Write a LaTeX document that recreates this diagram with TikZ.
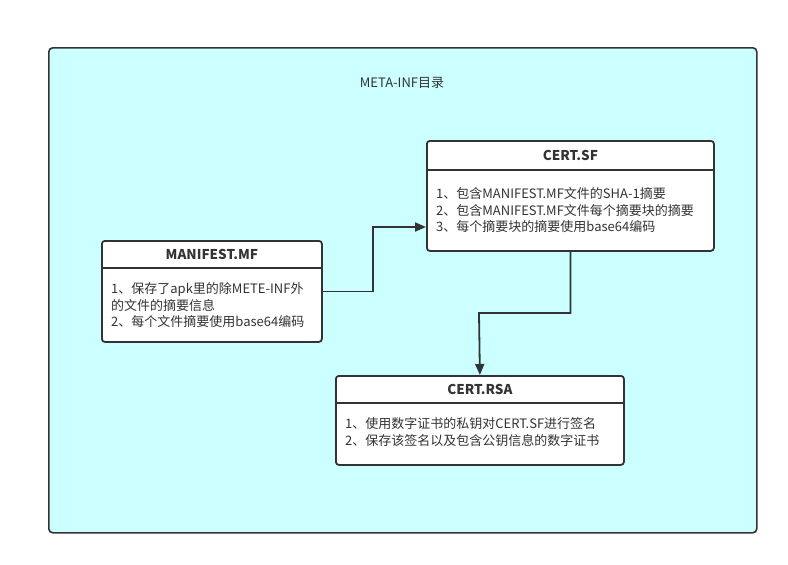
\documentclass[tikz,border=0pt]{standalone}
\usepackage{fontspec}
\setmainfont{Noto Sans CJK SC}
\usetikzlibrary{arrows.meta}

\definecolor{bgcyan}{RGB}{204,255,255}
\definecolor{linegray}{RGB}{51,51,51}

\begin{document}
\begin{tikzpicture}[x=1pt,y=-1pt,font=\fontsize{13}{16.8}\selectfont,text=linegray]
    \tikzset{
        frame/.style={draw=linegray, line width=1.6pt, rounded corners=4pt, fill=bgcyan,
            anchor=north west, inner sep=0pt},
        card/.style={draw=linegray, line width=1.8pt, rounded corners=3pt, fill=white,
            anchor=north west, inner sep=0pt},
        cardhead/.style={font=\fontsize{13.5}{15}\selectfont\bfseries},
        cardbody/.style={anchor=north west, align=left, inner sep=0pt},
        link/.style={draw=linegray, line width=1.8pt, -{Triangle[length=11pt,width=9pt]}}
    }

    \useasboundingbox (0,0) rectangle (788,565);

    % outer directory frame
    \node[frame, minimum width=708pt, minimum height=485pt] (metainf) at (48,47) {};
    \node (title) at (402,83) {META-INF目录};

    % MANIFEST.MF
    \node[card, minimum width=220pt, minimum height=101pt] (mf) at (101,240) {};
    \node[cardhead] (mfhead) at ([yshift=-14] mf.north) {MANIFEST.MF};
    \draw[draw=linegray, line width=1.8pt] ([yshift=-28] mf.north west) -- ([yshift=-28] mf.north east);
    \node[cardbody] (mfbody) at ([xshift=10,yshift=-42] mf.north west)
        {1、保存了apk里的除METE-INF外\\的文件的摘要信息\\2、每个文件摘要使用base64编码};

    % CERT.SF
    \node[card, minimum width=287pt, minimum height=110pt] (sf) at (426,140) {};
    \node[cardhead] (sfhead) at ([yshift=-15] sf.north) {CERT.SF};
    \draw[draw=linegray, line width=1.8pt] ([yshift=-30] sf.north west) -- ([yshift=-30] sf.north east);
    \node[cardbody] (sfbody) at ([xshift=10,yshift=-47] sf.north west)
        {1、包含MANIFEST.MF文件的SHA-1摘要\\2、包含MANIFEST.MF文件每个摘要块的摘要\\3、每个摘要块的摘要使用base64编码};

    % CERT.RSA
    \node[card, minimum width=288pt, minimum height=89pt] (rsa) at (335,375) {};
    \node[cardhead] (rsahead) at ([yshift=-14] rsa.north) {CERT.RSA};
    \draw[draw=linegray, line width=1.8pt] ([yshift=-28] rsa.north west) -- ([yshift=-28] rsa.north east);
    \node[cardbody] (rsabody) at ([xshift=10,yshift=-42] rsa.north west)
        {1、使用数字证书的私钥对CERT.SF进行签名\\2、保存该签名以及包含公钥信息的数字证书};

    % connectors
    \coordinate (bend1) at (373,227);
    \coordinate (bend2) at (479,313);
    \draw[link] (mf.east) -| (bend1) -- (bend1 -| sf.west);
    \draw[link] (sf.south) |- (bend2) -- (rsa.north);
\end{tikzpicture}
\end{document}
